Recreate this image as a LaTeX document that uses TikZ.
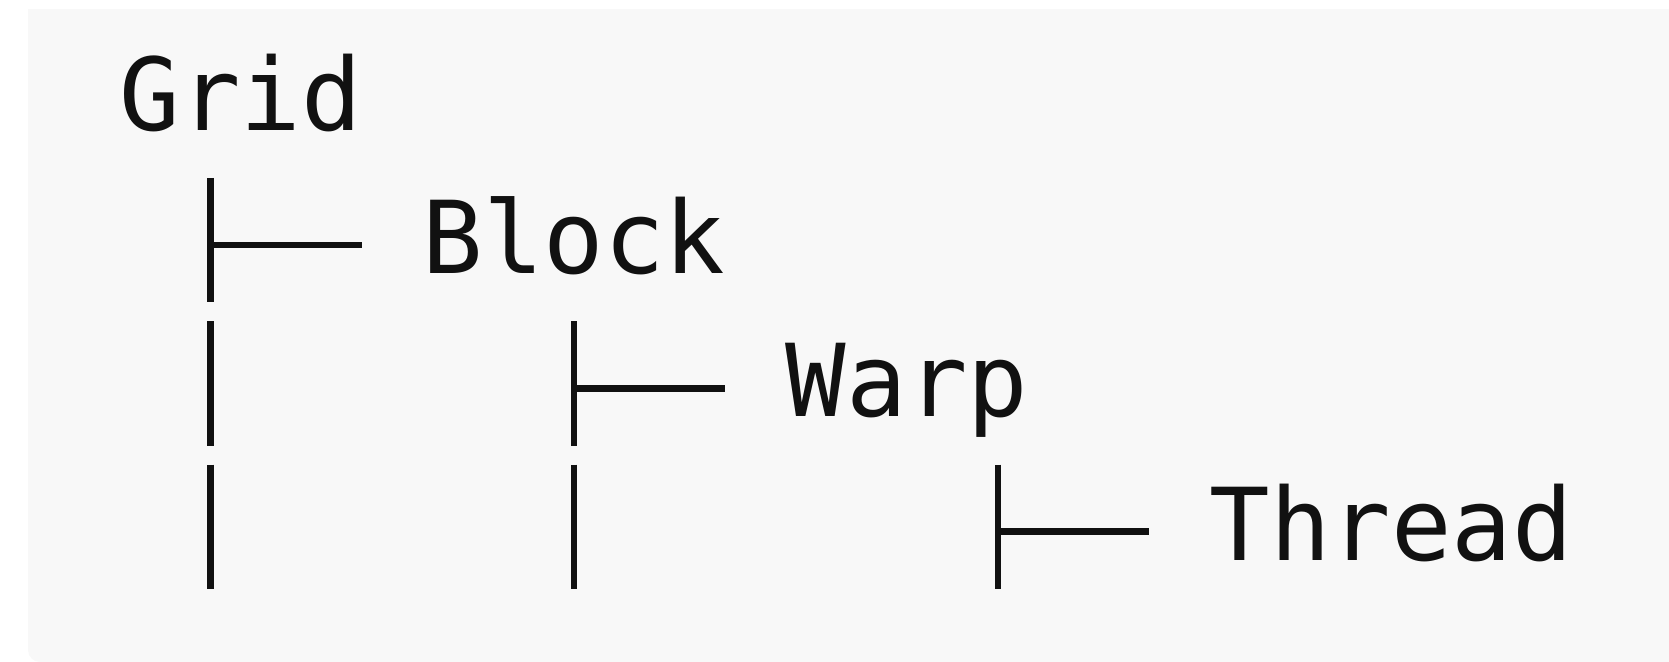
\documentclass[tikz,border=0pt]{standalone}
\usepackage{fontspec}
\newfontfamily\codefont{DejaVu Sans Mono}
\definecolor{codebg}{HTML}{F8F8F8}
\definecolor{ink}{HTML}{111111}
\tikzset{
  entry/.style={inner sep=0pt, outer sep=0pt, anchor=base west, text=ink,
    font=\codefont\fontsize{50.29pt}{70pt}\selectfont},
  branch/.style={draw=ink, line width=3.2pt, line cap=butt},
}
\begin{document}
\begin{tikzpicture}[x=0.5pt,y=-0.5pt]
  \useasboundingbox (0,0) rectangle (1669,661);
  % code block background
  \fill[codebg] (1690,9) -- (28,9) [rounded corners=6pt] -- (28,662) -- (1690,662) -- cycle;

  % tree entries
  \node[entry] (grid)   at (119.8,130)   {Grid};
  \node[entry] (block)  at (422.6,273.4) {Block};
  \node[entry] (warp)   at (785.9,416.7) {Warp};
  \node[entry] (thread) at (1209.7,560)  {Thread};

  % joints of the tree lines (columns 1, 7, 14; rows 2, 3, 4)
  \coordinate (a2t) at (210.6,177.9); \coordinate (a2b) at (210.6,302.4);
  \coordinate (a2m) at (210.6,245.0); \coordinate (a2e) at (362.0,245.0);
  \coordinate (a3t) at (210.6,321.2); \coordinate (a3b) at (210.6,445.7);
  \coordinate (a4t) at (210.6,464.5); \coordinate (a4b) at (210.6,589.0);

  \coordinate (b3t) at (573.9,321.2); \coordinate (b3b) at (573.9,445.7);
  \coordinate (b3m) at (573.9,388.3); \coordinate (b3e) at (725.3,388.3);
  \coordinate (b4t) at (573.9,464.5); \coordinate (b4b) at (573.9,589.0);

  \coordinate (c4t) at (997.8,464.5); \coordinate (c4b) at (997.8,589.0);
  \coordinate (c4m) at (997.8,531.6); \coordinate (c4e) at (1149.2,531.6);

  % Grid -> Block
  \draw[branch] (a2t) -- (a2b);
  \draw[branch] (a2m) -- (a2e);
  \draw[branch] (a3t) -- (a3b);
  \draw[branch] (a4t) -- (a4b);

  % Block -> Warp
  \draw[branch] (b3t) -- (b3b);
  \draw[branch] (b3m) -- (b3e);
  \draw[branch] (b4t) -- (b4b);

  % Warp -> Thread
  \draw[branch] (c4t) -- (c4b);
  \draw[branch] (c4m) -- (c4e);
\end{tikzpicture}
\end{document}
